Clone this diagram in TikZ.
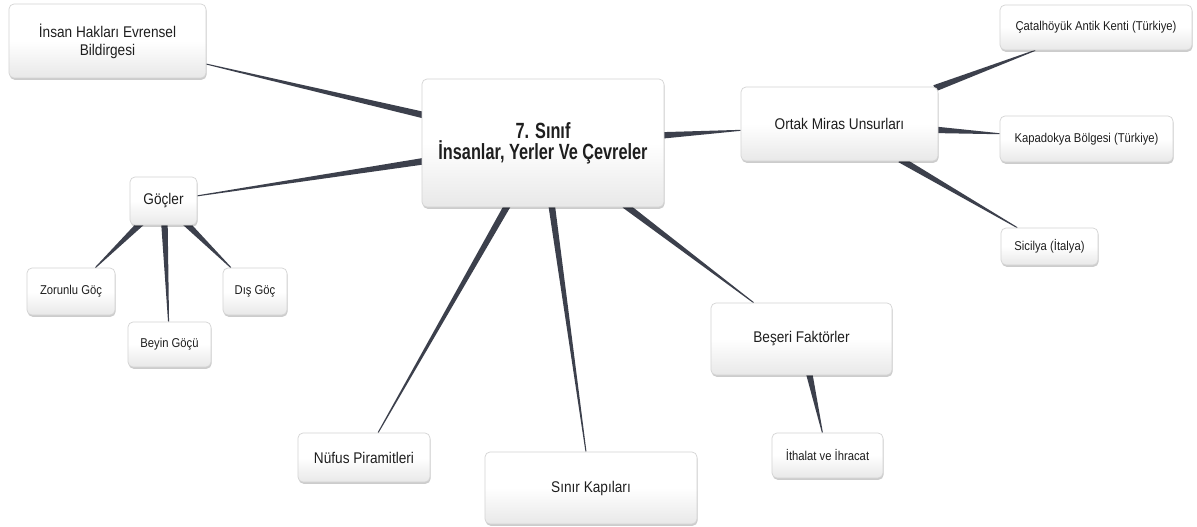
\documentclass[tikz,border=0pt]{standalone}
\usepackage{fontspec}
\setmainfont{Liberation Sans}[FakeStretch=0.88]
\newfontfamily\titlefont{Liberation Sans}[FakeStretch=0.74]
\usetikzlibrary{calc,shadows}
\pgfdeclarelayer{bg}
\pgfsetlayers{bg,main}
\definecolor{linkc}{RGB}{60,64,76}
\definecolor{txtc}{RGB}{30,30,30}
\definecolor{boxline}{RGB}{212,212,212}
\tikzset{
  box/.style={draw=boxline, line width=0.7pt, rounded corners=5pt,
    top color=white, bottom color=black!9, middle color=white,
    text=txtc, align=center, inner sep=0pt,
    drop shadow={shadow xshift=0.6pt, shadow yshift=-1.8pt, opacity=0.2, fill=black},
    font=\fontsize{15.5}{18}\selectfont},
  smallbox/.style={box, font=\fontsize{12.8}{15}\selectfont},
  titlebox/.style={box, font=\titlefont\bfseries\fontsize{22}{21}\selectfont},
}
\newcommand\taper[2]{%
  \path (#1) -- coordinate[pos=0] (tpS) coordinate[pos=1] (tpE) (#2);
  \coordinate (tpS0) at ($(tpS)!-4pt!(tpE)$);
  \fill[linkc] ($(tpS0)!3.3pt!90:(tpE)$) -- ($(tpE)!0.5pt!-90:(tpS0)$)
    -- ($(tpE)!0.5pt!90:(tpS0)$) -- ($(tpS0)!3.3pt!-90:(tpE)$) -- cycle;}
\begin{document}
\begin{tikzpicture}[x=1pt,y=-1pt]
\useasboundingbox (0,0) rectangle (1197,527);
% nodes
\node[titlebox, minimum width=242pt, minimum height=128pt] (ctr) at (543,143) {7. Sınıf\\İnsanlar, Yerler Ve Çevreler};
\node[box, minimum width=197pt, minimum height=74pt] (insan) at (107.5,41) {İnsan Hakları Evrensel\\Bildirgesi};
\node[box, minimum width=197pt, minimum height=74pt] (ortak) at (839.5,124) {Ortak Miras Unsurları};
\node[smallbox, minimum width=192pt, minimum height=45pt] (catal) at (1096,27.5) {Çatalhöyük Antik Kenti (Türkiye)};
\node[smallbox, minimum width=173pt, minimum height=46pt] (kapa) at (1086.5,139) {Kapadokya Bölgesi (Türkiye)};
\node[smallbox, minimum width=97pt, minimum height=37pt] (sicil) at (1049.5,246.5) {Sicilya (İtalya)};
\node[box, minimum width=67pt, minimum height=48pt] (gocler) at (163.5,201) {Göçler};
\node[smallbox, minimum width=88pt, minimum height=47pt] (zorunlu) at (71,291.5) {Zorunlu Göç};
\node[smallbox, minimum width=83pt, minimum height=45pt] (beyin) at (169.5,344.5) {Beyin Göçü};
\node[smallbox, minimum width=64pt, minimum height=47pt] (dis) at (255,291.5) {Dış Göç};
\node[box, minimum width=132pt, minimum height=49pt] (nufus) at (364,457.5) {Nüfus Piramitleri};
\node[box, minimum width=212pt, minimum height=72pt] (sinir) at (591,488) {Sınır Kapıları};
\node[box, minimum width=181pt, minimum height=72pt] (beseri) at (801.5,339) {Beşeri Faktörler};
\node[smallbox, minimum width=111pt, minimum height=45pt] (ithalat) at (827.5,455.5) {İthalat ve İhracat};
% connectors
\begin{pgfonlayer}{bg}
\fill[white] (0,0) rectangle (1197,527);
\taper{ctr}{insan}
\taper{ctr}{gocler}
\taper{ctr}{ortak}
\taper{ctr}{nufus}
\taper{ctr}{sinir}
\taper{ctr}{beseri}
\taper{ortak}{catal}
\taper{ortak}{kapa}
\taper{ortak}{sicil}
\taper{gocler}{zorunlu}
\taper{gocler}{beyin}
\taper{gocler}{dis}
\taper{beseri}{ithalat}
\end{pgfonlayer}
\end{tikzpicture}
\end{document}
